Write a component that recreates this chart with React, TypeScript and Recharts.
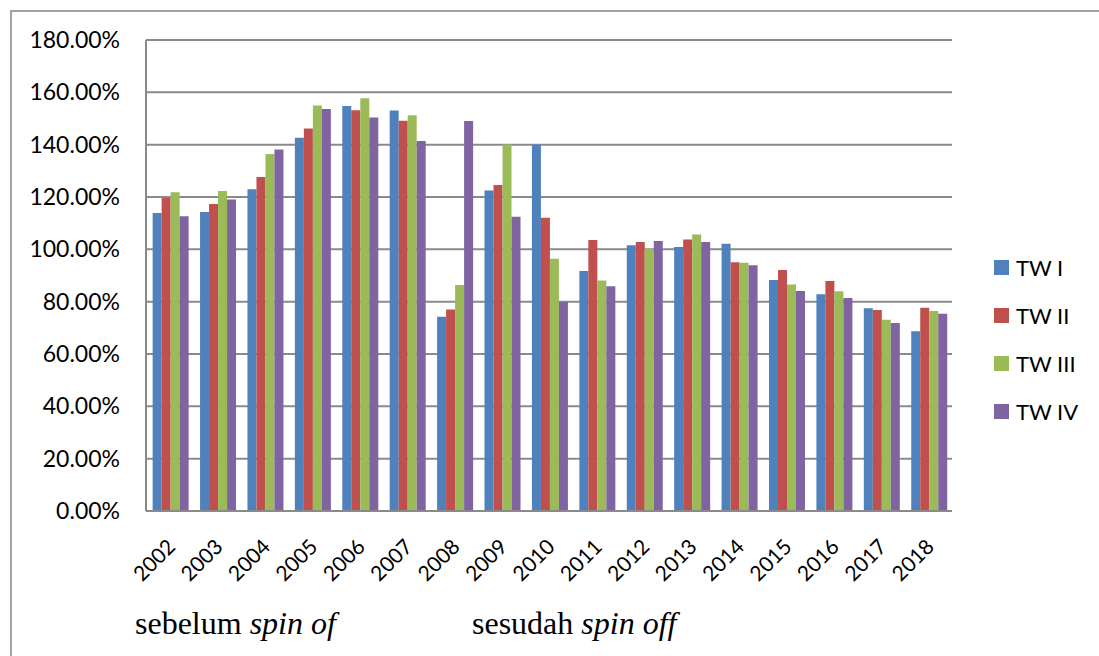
import { BarChart, Bar, XAxis, YAxis, CartesianGrid } from 'recharts'

const years = ['2002', '2003', '2004', '2005', '2006', '2007', '2008', '2009', '2010', '2011', '2012', '2013', '2014', '2015', '2016', '2017', '2018']
const twI = [113.9, 114.3, 123.0, 142.6, 154.8, 153.1, 74.2, 122.5, 140.1, 91.7, 101.6, 100.9, 102.1, 88.3, 82.8, 77.5, 68.7]
const twII = [119.6, 117.3, 127.6, 146.2, 153.2, 149.1, 77.0, 124.6, 112.1, 103.6, 102.8, 103.8, 95.1, 92.1, 87.9, 76.8, 77.7]
const twIII = [121.8, 122.3, 136.4, 155.0, 157.7, 151.2, 86.4, 140.1, 96.4, 88.1, 100.2, 105.7, 94.9, 86.6, 84.0, 73.1, 76.4]
const twIV = [112.6, 119.0, 138.2, 153.6, 150.4, 141.4, 149.0, 112.5, 79.9, 85.9, 103.2, 102.8, 93.9, 84.1, 81.4, 71.8, 75.4]
const yTicks = [0, 20, 40, 60, 80, 100, 120, 140, 160, 180]

const series = [
  { key: 'twI', name: 'TW I', color: '#4F81BD' },
  { key: 'twII', name: 'TW II', color: '#C0504D' },
  { key: 'twIII', name: 'TW III', color: '#9BBB59' },
  { key: 'twIV', name: 'TW IV', color: '#8064A2' },
]

const data = years.map((year, i) => ({ year, twI: twI[i], twII: twII[i], twIII: twIII[i], twIV: twIV[i] }))

const font = 'Lato, "Open Sans", sans-serif'
const serif = '"Liberation Serif", "Times New Roman", serif'

function YearTick({ x, y, payload }: { x?: number; y?: number; payload?: { value: string } }) {
  return (
    <g transform={`translate(${(x ?? 0) + 1},${(y ?? 0) + 31}) rotate(-45)`}>
      <text x={0} y={0} textAnchor="end" dominantBaseline="central" fontSize={21} fontFamily={font} fill="#000">
        {payload?.value}
      </text>
    </g>
  )
}

export default function App() {
  return (
    <div style={{ position: 'absolute', left: 0, top: 0, width: 1099, height: 656, background: '#fff', overflow: 'hidden' }}>
      <div style={{ position: 'absolute', left: 10, top: 10, right: -10, bottom: -10, borderTop: '2px solid #a3a3a3', borderLeft: '2px solid #a3a3a3' }} />
      <BarChart
        width={1099}
        height={656}
        data={data}
        margin={{ top: 40, right: 147, bottom: 85, left: 0 }}
        barCategoryGap="14%"
        barGap={0}
      >
        <CartesianGrid stroke="#8a8a8a" strokeWidth={2} vertical={false} />
        <XAxis
          dataKey="year"
          height={60}
          interval={0}
          tickLine={false}
          tickSize={0}
          tickMargin={0}
          axisLine={{ stroke: '#8a8a8a', strokeWidth: 2 }}
          tick={<YearTick />}
        />
        <YAxis
          width={146}
          domain={[0, 180]}
          ticks={yTicks}
          tickLine={false}
          tickSize={0}
          tickMargin={26}
          axisLine={{ stroke: '#8a8a8a', strokeWidth: 2 }}
          tickFormatter={(v: number) => `${v.toFixed(2)}%`}
          tick={{ fontSize: 23, fill: '#000', fontFamily: font }}
        />
        {series.map((s) => (
          <Bar key={s.key} dataKey={s.key} name={s.name} fill={s.color} isAnimationActive={false} />
        ))}
      </BarChart>
      <div style={{ position: 'absolute', left: 994, top: 243, fontFamily: font, fontSize: 22, color: '#000' }}>
        {series.map((s) => (
          <div key={s.key} style={{ display: 'flex', alignItems: 'center', height: 48 }}>
            <span style={{ width: 15, height: 15, background: s.color, marginRight: 7, display: 'inline-block' }} />
            <span>{s.name}</span>
          </div>
        ))}
      </div>
      <div style={{ position: 'absolute', left: 135, top: 605, fontFamily: serif, fontSize: 32, color: '#000', whiteSpace: 'nowrap' }}>
        sebelum <i>spin of</i>
      </div>
      <div style={{ position: 'absolute', left: 472, top: 605, fontFamily: serif, fontSize: 32, color: '#000', whiteSpace: 'nowrap' }}>
        sesudah <i>spin off</i>
      </div>
    </div>
  )
}
